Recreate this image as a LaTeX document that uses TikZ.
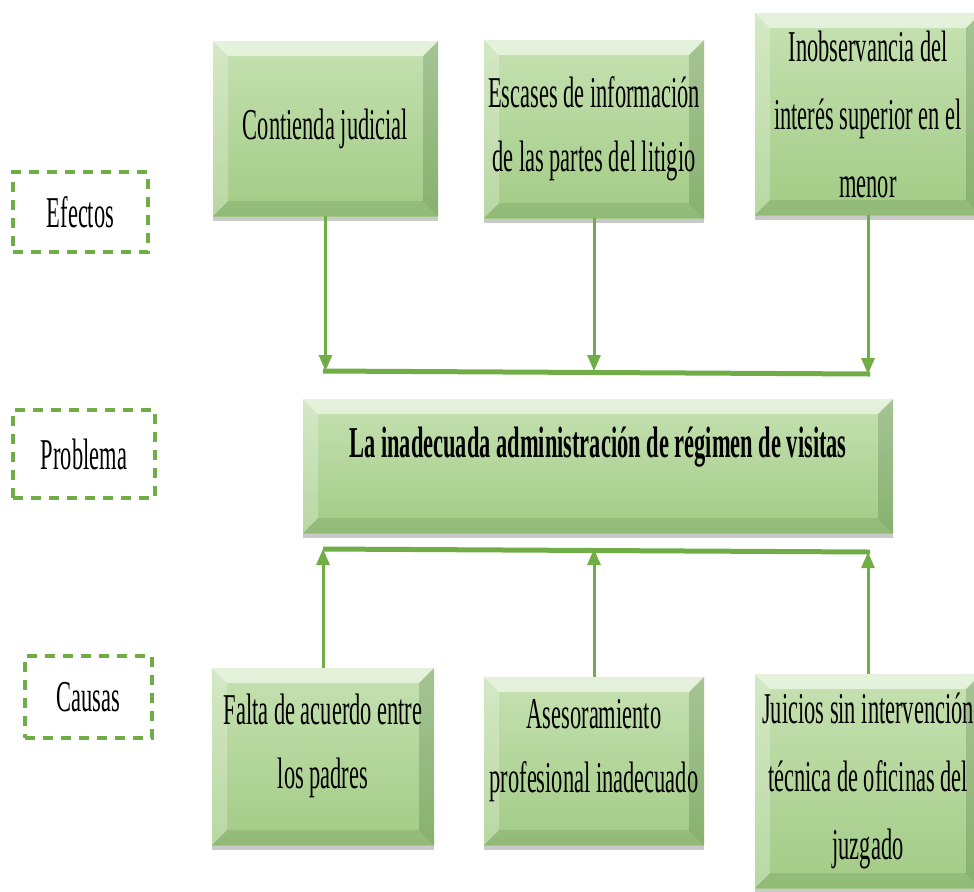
\documentclass[tikz,border=0pt]{standalone}
\usepackage{fontspec}
\setmainfont[FakeStretch=0.51]{Liberation Serif}
\usetikzlibrary{arrows.meta,shadows}
\definecolor{gline}{RGB}{112,173,71}
\definecolor{boxtop}{RGB}{198,225,178}
\definecolor{boxbot}{RGB}{162,203,133}
\tikzset{
  bevelbox/.style={draw=none, top color=boxtop, bottom color=boxbot,
    drop shadow={shadow xshift=0pt, shadow yshift=-2.5pt, opacity=0.35, fill=black!60},
    path picture={
      \def\bv{7.5pt}
      \fill[white,opacity=0.55] (path picture bounding box.north west) -- (path picture bounding box.north east)
        -- ([shift={(-\bv,-\bv)}]path picture bounding box.north east) -- ([shift={(\bv,-\bv)}]path picture bounding box.north west) -- cycle;
      \fill[white,opacity=0.25] (path picture bounding box.north west) -- ([shift={(\bv,-\bv)}]path picture bounding box.north west)
        -- ([shift={(\bv,\bv)}]path picture bounding box.south west) -- (path picture bounding box.south west) -- cycle;
      \fill[black!40!green!30!black,opacity=0.16] (path picture bounding box.north east) -- ([shift={(-\bv,-\bv)}]path picture bounding box.north east)
        -- ([shift={(-\bv,\bv)}]path picture bounding box.south east) -- (path picture bounding box.south east) -- cycle;
      \fill[black!40!green!30!black,opacity=0.10] (path picture bounding box.south west) -- ([shift={(\bv,\bv)}]path picture bounding box.south west)
        -- ([shift={(-\bv,\bv)}]path picture bounding box.south east) -- (path picture bounding box.south east) -- cycle;
    },
    align=center, text=black, font=\fontsize{22}{34}\selectfont, inner sep=2pt},
  dashbox/.style={draw=gline, line width=2.4pt, dash pattern=on 5pt off 4pt,
    font=\fontsize{22}{34}\selectfont, text=black},
  conn/.style={draw=gline, line width=2.5pt},
  arrowline/.style={draw=gline, line width=1.5pt, -{Triangle[length=8pt,width=6.5pt]}}
}
\begin{document}
\begin{tikzpicture}[x=0.5pt,y=-0.5pt]
\clip (0,0) rectangle (974,891);
\fill[white] (0,0) rectangle (974,891);

% effects
\node[bevelbox, minimum width=112.5pt, minimum height=87.5pt] (e1) at (325.5,128.5) {Contienda judicial};
\node[bevelbox, minimum width=110pt, minimum height=89pt, font=\fontsize{22}{32}\selectfont] (e2) at (594,129) {Escases de información\\de las partes del litigio};
\node[bevelbox, minimum width=113pt, minimum height=101pt] (e3) at (868,114) {Inobservancia del\\interés superior en el\\menor};

% problem
\node[bevelbox, minimum width=295pt, minimum height=67pt] (p) at (598,466) {};
\node[font=\bfseries\fontsize{22}{34}\selectfont] (ptext) at (598,447) {La inadecuada administración de régimen de visitas};

% causes
\node[bevelbox, minimum width=111pt, minimum height=88.5pt, font=\fontsize{22}{32}\selectfont, text depth=15pt] (c1) at (323,756.5) {Falta de acuerdo entre\\los padres};
\node[bevelbox, minimum width=110pt, minimum height=84pt, font=\fontsize{22}{32}\selectfont, text depth=15pt] (c2) at (594,761) {Asesoramiento\\profesional inadecuado};
\node[bevelbox, minimum width=113pt, minimum height=107pt] (c3) at (868,781) {Juicios sin intervención\\técnica de oficinas del\\juzgado};

% labels
\node[dashbox, minimum width=67.5pt, minimum height=40pt] (ef) at (80.5,212) {Efectos};
\node[dashbox, minimum width=71pt, minimum height=44pt] (pr) at (84,454) {Problema};
\node[dashbox, minimum width=63.5pt, minimum height=41pt] (ca) at (88.5,697) {Causas};

% top connectors
\coordinate (ta) at (323,371);
\coordinate (tb) at (870,374);
\draw[conn] (ta) -- (tb);
\draw[arrowline] (e1.south) -- (e1.south |- ta);
\draw[arrowline] (e2.south) -- (e2.south |- ta);
\draw[arrowline] (e3.south) -- (e3.south |- tb);

% bottom connectors
\coordinate (ba) at (323,549);
\coordinate (bb) at (870,552);
\draw[conn] (ba) -- (bb);
\draw[arrowline] (c1.north) -- (c1.north |- ba);
\draw[arrowline] (c2.north) -- (c2.north |- ba);
\draw[arrowline] (c3.north) -- (c3.north |- bb);
\end{tikzpicture}
\end{document}
